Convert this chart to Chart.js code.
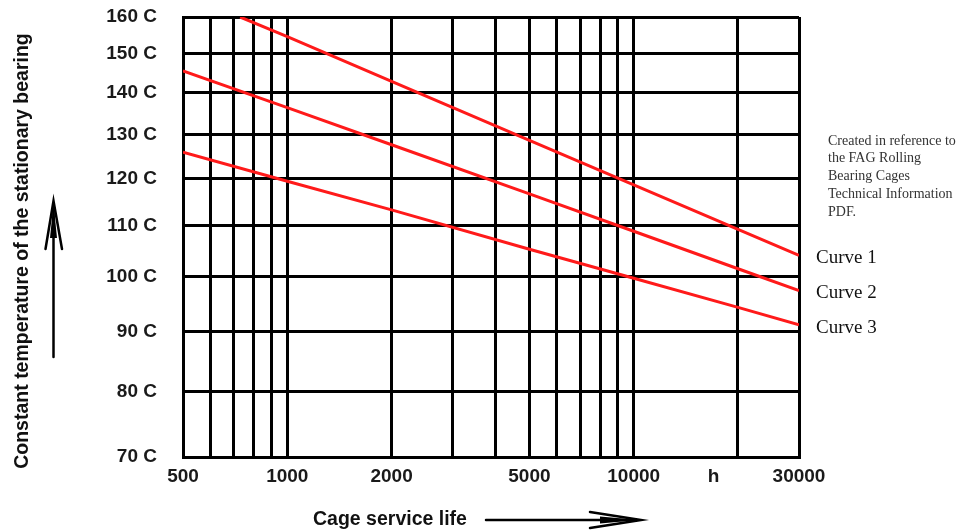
<!DOCTYPE html>
<html>
<head>
<meta charset="utf-8">
<script src="https://cdn.jsdelivr.net/npm/chart.js@4/dist/chart.umd.min.js"></script>
<style>
  html, body { margin: 0; padding: 0; background: #ffffff; }
  canvas { display: block; }
</style>
</head>
<body>
<canvas id="c" width="976" height="531"></canvas>
<script>
// ---- data ----
const curve1Hours = [731, 1000, 2000, 5000, 10000, 20000, 30000];
const curve1Temp  = [160, 154.6, 142.9, 128.6, 118.6, 109.3, 104.1];
const lifeHours   = [500, 1000, 2000, 5000, 10000, 20000, 30000];
const curve2Temp  = [145.6, 136.4, 127.6, 116.7, 108.9, 101.5, 97.4];
const curve3Temp  = [125.9, 119.4, 113.3, 105.3, 99.7, 94.3, 91.2];
const seriesNames = ['Curve 1', 'Curve 2', 'Curve 3'];

// ---- ticks ----
const tempTicks = [70, 80, 90, 100, 110, 120, 130, 140, 150, 160];
const hourGrid = [500, 600, 700, 800, 900, 1000, 2000, 3000, 4000, 5000, 6000, 7000, 8000, 9000, 10000, 20000, 30000];
const hourLabelValues = [500, 1000, 2000, 5000, 10000, 30000];
const unitTickValue = 17000;
const unitLabel = 'h';
const noteLines = ['Created in reference to', 'the FAG Rolling', 'Bearing Cages', 'Technical Information', 'PDF.'];
const yTitle = 'Constant temperature of the stationary bearing';
const xTitle = 'Cage service life';

// temperature axis of the chart is compressed: position ~ log10(T + offset)
const TEMP_OFFSET = 28;

class TempScale extends Chart.LinearScale {
  _tf(v) { return Math.log10(v + TEMP_OFFSET); }
  getPixelForValue(value) {
    const a = this._tf(this.min), b = this._tf(this.max);
    return this.getPixelForDecimal((this._tf(value) - a) / (b - a));
  }
  getValueForPixel(pixel) {
    const a = this._tf(this.min), b = this._tf(this.max);
    const d = this.getDecimalForPixel(pixel);
    return Math.pow(10, a + d * (b - a)) - TEMP_OFFSET;
  }
}
TempScale.id = 'tempscale';
TempScale.defaults = Chart.LinearScale.defaults;
Chart.register(TempScale);

const SANS = "'Liberation Sans', Arial, sans-serif";
const SERIF = "'Liberation Serif', 'Times New Roman', serif";
const RED = '#ff1a1a';

const decorPlugin = {
  id: 'decor',
  afterDraw(chart) {
    const ctx = chart.ctx;
    const area = chart.chartArea;
    const ys = chart.scales.y;
    ctx.save();
    // Y title (rotated)
    ctx.fillStyle = '#111';
    ctx.font = 'bold 19.5px ' + SANS;
    ctx.textAlign = 'center';
    ctx.textBaseline = 'middle';
    ctx.save();
    ctx.translate(23, 251);
    ctx.rotate(-Math.PI / 2);
    ctx.fillText(yTitle, 0, 0);
    ctx.restore();
    // X title
    ctx.textAlign = 'left';
    ctx.fillText(xTitle, 313, 520);

    // arrows
    ctx.strokeStyle = '#000';
    ctx.fillStyle = '#000';
    ctx.lineWidth = 2.5;
    ctx.lineCap = 'round';
    // up arrow
    ctx.beginPath();
    ctx.moveTo(53.5, 357); ctx.lineTo(53.5, 206);
    ctx.stroke();
    ctx.beginPath();
    ctx.moveTo(45.5, 249); ctx.lineTo(53.5, 201); ctx.lineTo(62, 249);
    ctx.stroke();
    ctx.beginPath();
    ctx.moveTo(50, 238); ctx.lineTo(53.5, 203); ctx.lineTo(57, 238); ctx.closePath();
    ctx.fill();
    // right arrow
    ctx.beginPath();
    ctx.moveTo(486, 520); ctx.lineTo(636, 520);
    ctx.stroke();
    ctx.beginPath();
    ctx.moveTo(590, 512); ctx.lineTo(641, 520); ctx.lineTo(590, 528);
    ctx.stroke();
    ctx.beginPath();
    ctx.moveTo(600, 516.5); ctx.lineTo(639, 520); ctx.lineTo(600, 523.5); ctx.closePath();
    ctx.fill();

    // note
    ctx.fillStyle = '#333';
    ctx.font = '14px ' + SERIF;
    ctx.textAlign = 'left';
    ctx.textBaseline = 'middle';
    noteLines.forEach((t, i) => ctx.fillText(t, 828, 141 + i * 17.8));

    // curve labels at the end of each curve
    ctx.fillStyle = '#111';
    ctx.font = '19px ' + SERIF;
    chart.data.datasets.forEach((ds) => {
      const last = ds.data[ds.data.length - 1];
      ctx.fillText(ds.label, area.right + 17, ys.getPixelForValue(last.y) + 3);
    });
    ctx.restore();
  }
};

const toPoints = (xs, ys) => xs.map((x, i) => ({ x: x, y: ys[i] }));

new Chart(document.getElementById('c'), {
  type: 'line',
  data: {
    datasets: [
      { label: seriesNames[0], data: toPoints(curve1Hours, curve1Temp) },
      { label: seriesNames[1], data: toPoints(lifeHours, curve2Temp) },
      { label: seriesNames[2], data: toPoints(lifeHours, curve3Temp) }
    ].map(d => Object.assign(d, {
      borderColor: RED, backgroundColor: RED, borderWidth: 3,
      pointRadius: 0, tension: 0, fill: false
    }))
  },
  options: {
    responsive: false,
    animation: false,
    events: [],
    layout: { padding: { left: 0, right: 177, top: 17, bottom: 0 } },
    plugins: { legend: { display: false }, tooltip: { enabled: false } },
    scales: {
      x: {
        type: 'logarithmic',
        min: 500, max: 30000,
        afterBuildTicks: (s) => { s.ticks = hourGrid.concat([unitTickValue]).sort((a, b) => a - b).map(v => ({ value: v })); },
        afterFit: (s) => { s.height = 74; s.paddingLeft = 0; s.paddingRight = 0; },
        grid: {
          color: (c) => (c.tick && c.tick.value === unitTickValue) ? 'rgba(0,0,0,0)' : '#000',
          lineWidth: 3, drawTicks: false
        },
        border: { color: '#000', width: 3 },
        ticks: {
          autoSkip: false, maxRotation: 0, minRotation: 0, padding: 8,
          color: '#1a1a1a', font: { family: SANS, size: 19, weight: 'bold' },
          callback: (v) => v === unitTickValue ? unitLabel : (hourLabelValues.includes(v) ? String(v) : '')
        }
      },
      y: {
        type: 'tempscale',
        min: 70, max: 160,
        afterBuildTicks: (s) => { s.ticks = tempTicks.map(v => ({ value: v })); },
        afterFit: (s) => { s.width = 183; s.paddingTop = 0; s.paddingBottom = 0; },
        grid: { color: '#000', lineWidth: 3, drawTicks: false },
        border: { color: '#000', width: 3 },
        ticks: {
          autoSkip: false, padding: 26,
          color: '#1a1a1a', font: { family: SANS, size: 19, weight: 'bold' },
          callback: (v) => v + ' C'
        }
      }
    }
  },
  plugins: [decorPlugin]
});
</script>
</body>
</html>
